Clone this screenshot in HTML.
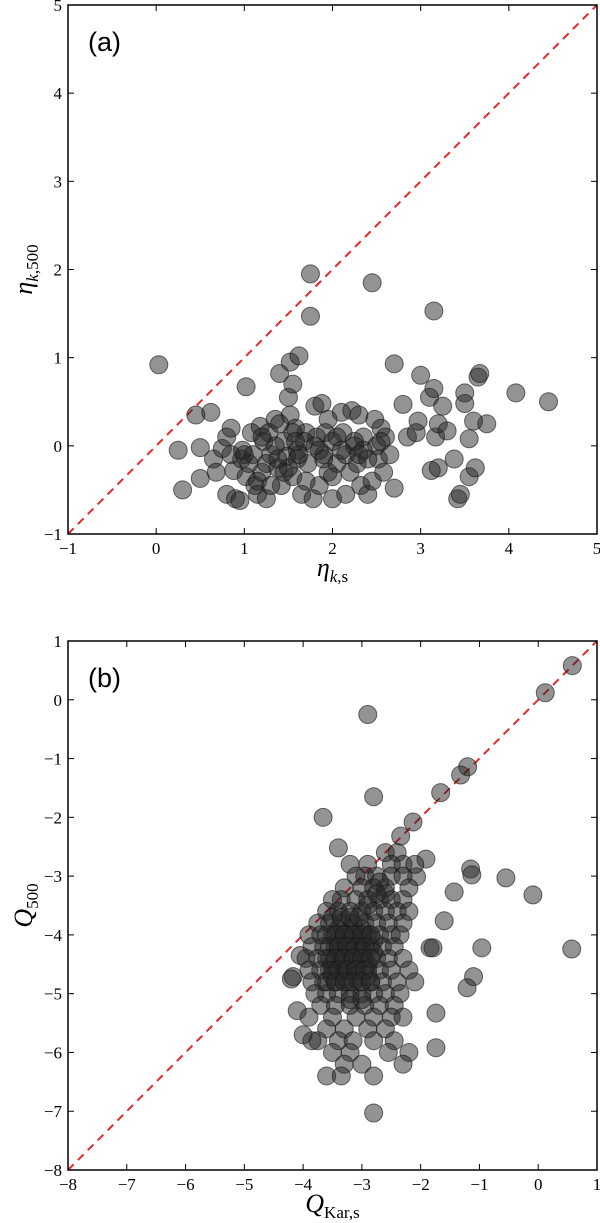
<!DOCTYPE html>
<html><head><meta charset="utf-8"><style>
html,body{margin:0;padding:0;background:#fff;}
svg{display:block;}
text{font-family:"Liberation Serif",serif;fill:#000;}
</style></head><body>
<svg id="chart" width="600" height="1223" viewBox="0 0 600 1223" xmlns="http://www.w3.org/2000/svg"></svg>
<script>
const etaS = [0.03,0.25,0.3,0.45,0.5,0.5,0.62,0.65,0.68,0.75,0.8,0.8,0.85,0.85,0.88,0.9,0.95,0.97,1.0,1.02,1.02,1.08,1.12,1.15,1.18,1.2,1.22,1.25,1.28,1.3,1.35,1.38,1.4,1.42,1.45,1.48,1.5,1.52,1.52,1.55,1.55,1.58,1.6,1.62,1.65,1.7,1.72,1.75,1.75,1.78,1.8,1.82,1.85,1.88,1.9,1.92,1.95,2.0,2.0,2.05,2.1,2.12,2.15,2.2,2.22,2.25,2.28,2.3,2.32,2.35,2.4,2.45,2.45,2.48,2.5,2.52,2.55,2.6,2.65,2.7,2.7,2.8,2.85,2.95,2.97,3.0,3.1,3.12,3.15,3.15,3.17,3.2,3.2,3.25,3.3,3.38,3.42,3.45,3.5,3.5,3.55,3.55,3.6,3.62,3.65,3.67,3.75,4.08,4.45,1.1,1.15,1.25,1.35,1.45,1.55,1.6,1.68,1.85,1.95,2.05,2.15,2.25,2.35,2.55,1.05,1.3,1.5,1.7,1.9,2.1,2.3,1.2,1.4,1.62,1.8,2.0,2.4,0.98,1.38,1.58,2.58];
const eta500 = [0.92,-0.05,-0.5,0.35,-0.02,-0.37,0.38,-0.15,-0.3,-0.03,0.1,-0.55,0.2,-0.1,-0.28,-0.6,-0.62,-0.15,-0.1,0.67,-0.35,0.15,-0.45,-0.55,0.22,-0.3,0.05,-0.6,0.15,-0.1,0.3,-0.25,0.82,-0.45,0.05,-0.12,0.55,0.95,0.35,0.7,-0.35,0.2,-0.05,1.02,-0.55,0.15,-0.2,1.95,1.47,-0.6,0.45,0.1,-0.45,0.48,-0.1,0.15,0.3,-0.6,0.05,-0.2,0.38,0.15,-0.55,-0.3,0.4,0.0,-0.2,0.35,-0.45,0.1,-0.55,1.85,-0.4,0.3,0.0,-0.15,0.2,0.1,-0.1,0.93,-0.48,0.47,0.1,0.15,0.28,0.8,0.55,-0.28,1.53,0.65,0.1,-0.25,0.25,0.45,0.17,-0.15,-0.6,-0.55,0.6,0.48,-0.35,0.08,0.28,-0.25,0.78,0.82,0.25,0.6,0.5,-0.1,-0.4,-0.2,0.0,-0.3,0.15,-0.15,0.05,-0.05,-0.3,0.1,-0.1,0.05,-0.05,0.05,-0.2,-0.45,-0.25,-0.4,-0.15,-0.05,-0.1,0.1,0.25,-0.1,0.0,-0.35,-0.15,-0.05,-0.15,0.05,-0.3,0.12];
const qKar = [0.58,0.12,-1.2,-1.32,-1.66,-3.66,-2.13,-2.34,-3.4,-1.91,-2.07,-1.15,-1.13,-0.55,-0.09,-1.43,-1.6,-1.84,-1.79,-0.96,0.57,-1.1,-1.21,-1.74,-1.74,-4.17,-4.1,-2.9,-2.8,
-2.6,-2.4,-3.2,-2.9,-2.5,-2.3,-2.1,-3.1,-2.95,-2.75,-2.5,-2.3,-3.3,-3.0,-2.8,-2.6,-2.2,-3.5,-3.35,-3.1,-2.9,-2.7,-2.5,-2.3,-3.6,-3.4,-3.2,-3.0,-2.8,-2.6,-2.4,-2.2,-3.75,-3.55,-3.35,-3.15,-2.95,-2.75,-2.55,-2.3,-3.9,-3.7,-3.5,-3.3,-3.1,-2.9,-2.7,-2.5,-2.35,-3.85,-3.65,-3.45,-3.25,-3.05,-2.85,-2.65,-2.45,-3.95,-3.75,-3.55,-3.35,-3.15,-2.95,-2.75,-2.55,-2.3,-3.9,-3.7,-3.5,-3.3,-3.1,-2.9,-2.7,-2.5,-2.2,-3.85,-3.65,-3.45,-3.25,-3.05,-2.85,-2.65,-2.4,-2.1,-3.8,-3.6,-3.4,-3.2,-3.0,-2.8,-2.6,-2.35,-3.7,-3.45,-3.2,-2.95,-2.7,-2.45,-3.9,-3.5,-3.1,-2.8,-2.5,-2.3,-3.6,-3.3,-2.9,-2.6,-3.75,-3.4,-3.15,-2.8,-2.45,-3.5,-3.2,-2.55,-2.2,-3.3,-3.0,-2.3,-3.6,-3.35,-2.8,-2.8,-4.05,-4.2,-4.0,-3.85,
-3.4,-3.2,-3.0,-2.8,-3.5,-3.3,-3.1,-2.9,-3.4,-3.2,-3.0,-2.8,-3.5,-3.3,-3.1,-2.9,-3.4,-3.2,-3.0,
-3.6,-3.45,-3.3,-3.15,-3.0,-2.85,-3.55,-3.4,-3.25,-3.1,-2.95,-3.6,-3.45,-3.3,-3.15,-3.0,-2.85,-3.55,-3.4,-3.25,-3.1,-2.95,-3.6,-3.45,-3.3,-3.15,-3.0,-2.85,-3.5,-3.35,-3.2,-3.05,-3.2,-3.0,-2.7,-2.6,-2.9,-2.75];
const q500 = [0.58,0.12,-1.14,-1.28,-1.58,-2.0,-2.08,-2.32,-2.52,-2.71,-3.01,-2.88,-2.98,-3.03,-3.32,-3.27,-3.76,-4.22,-4.22,-4.22,-4.24,-4.71,-4.9,-5.33,-5.92,-4.71,-5.29,-0.25,-1.65,
-2.6,-2.6,-2.8,-2.8,-2.8,-2.8,-2.8,-3.0,-3.0,-3.0,-3.0,-3.0,-3.2,-3.2,-3.2,-3.2,-3.2,-3.4,-3.4,-3.4,-3.4,-3.4,-3.4,-3.4,-3.6,-3.6,-3.6,-3.6,-3.6,-3.6,-3.6,-3.6,-3.8,-3.8,-3.8,-3.8,-3.8,-3.8,-3.8,-3.8,-4.0,-4.0,-4.0,-4.0,-4.0,-4.0,-4.0,-4.0,-4.0,-4.2,-4.2,-4.2,-4.2,-4.2,-4.2,-4.2,-4.2,-4.4,-4.4,-4.4,-4.4,-4.4,-4.4,-4.4,-4.4,-4.4,-4.6,-4.6,-4.6,-4.6,-4.6,-4.6,-4.6,-4.6,-4.6,-4.8,-4.8,-4.8,-4.8,-4.8,-4.8,-4.8,-4.8,-4.8,-5.0,-5.0,-5.0,-5.0,-5.0,-5.0,-5.0,-5.0,-5.2,-5.2,-5.2,-5.2,-5.2,-5.2,-5.4,-5.4,-5.4,-5.4,-5.4,-5.4,-5.6,-5.6,-5.6,-5.6,-5.8,-5.8,-5.8,-5.8,-5.8,-6.0,-6.0,-6.0,-6.0,-6.2,-6.2,-6.2,-6.4,-6.4,-6.4,-7.03,-4.35,-4.75,-5.7,-5.8,
-4.1,-4.1,-4.1,-4.1,-4.5,-4.5,-4.5,-4.5,-4.3,-4.3,-4.3,-4.3,-4.7,-4.7,-4.7,-4.7,-3.9,-3.9,-3.9,
-4.0,-4.0,-4.0,-4.0,-4.0,-4.0,-4.2,-4.2,-4.2,-4.2,-4.2,-4.4,-4.4,-4.4,-4.4,-4.4,-4.4,-4.6,-4.6,-4.6,-4.6,-4.6,-4.8,-4.8,-4.8,-4.8,-4.8,-4.8,-3.7,-3.7,-3.7,-3.7,-5.1,-5.1,-3.1,-3.3,-3.5,-3.3];
const ticksA = [-1,0,1,2,3,4,5];
const ticksBx = [-8,-7,-6,-5,-4,-3,-2,-1,0,1];
const ticksBy = [-8,-7,-6,-5,-4,-3,-2,-1,0,1];

const NS='http://www.w3.org/2000/svg';
const svg=document.getElementById('chart');
function mk(tag,attrs,parent){const e=document.createElementNS(NS,tag);for(const k in attrs)e.setAttribute(k,attrs[k]);(parent||svg).appendChild(e);return e;}

function panel(p){
  const g=mk('g',{});
  
  
  const sx=v=>p.L+(v-p.xmin)/(p.xmax-p.xmin)*(p.R-p.L);
  const sy=v=>p.B-(v-p.ymin)/(p.ymax-p.ymin)*(p.B-p.T);
  const d=mk('line',{x1:sx(Math.max(p.xmin,p.ymin)),y1:sy(Math.max(p.xmin,p.ymin)),x2:sx(Math.min(p.xmax,p.ymax)),y2:sy(Math.min(p.xmax,p.ymax)),stroke:'#e8262b','stroke-width':2,'stroke-dasharray':'8,6'},g);
  
  
  const pts=mk('g',{},g);
  
  
  for(let i=0;i<p.xs.length;i++){
    const c=mk('circle',{cx:sx(p.xs[i]),cy:sy(p.ys[i]),r:9,fill:'rgba(40,40,40,0.5)',stroke:'rgba(20,20,20,0.6)','stroke-width':1},pts);
    
    
  }
  const fr=mk('rect',{x:p.L,y:p.T,width:p.R-p.L,height:p.B-p.T,fill:'none',stroke:'#000','stroke-width':1.5},g);
  
  
  p.xt.forEach(v=>{
    const x=sx(v);
    mk('line',{x1:x,y1:p.B,x2:x,y2:p.B-6,stroke:'#000'},g);
    mk('line',{x1:x,y1:p.T,x2:x,y2:p.T+6,stroke:'#000'},g);
    const t=mk('text',{x:x,y:p.B+20,'text-anchor':'middle','font-size':17},g);
    t.textContent=(v<0?'\u2212'+(-v):v);
    
    
  });
  p.yt.forEach(v=>{
    const y=sy(v);
    mk('line',{x1:p.L,y1:y,x2:p.L+6,y2:y,stroke:'#000'},g);
    mk('line',{x1:p.R,y1:y,x2:p.R-6,y2:y,stroke:'#000'},g);
    const t=mk('text',{x:p.L-6,y:y+6,'text-anchor':'end','font-size':17},g);
    t.textContent=(v<0?'\u2212'+(-v):v);
    
    
  });
  const lab=mk('text',{x:p.L+20,y:p.T+46,'font-size':27,style:'font-family:"Liberation Sans",sans-serif'},g);
  lab.textContent=p.label;
  
  
  const xl=mk('text',{x:(p.L+p.R)/2,y:p.B+42,'text-anchor':'middle','font-size':26},g);
  xl.innerHTML=p.xlab;
  
  
  const cy=(p.T+p.B)/2;
  const yl=mk('text',{x:32,y:cy,'text-anchor':'middle','font-size':26,transform:`rotate(-90 32 ${cy})`},g);
  yl.innerHTML=p.ylab;
  
  
}
panel({name:'panel-a',L:68,R:597,T:5,B:534,xmin:-1,xmax:5,ymin:-1,ymax:5,xs:etaS,ys:eta500,xt:ticksA,yt:ticksA,label:'(a)',
  xlab:'<tspan font-style="italic">η</tspan><tspan font-size="17" dy="6"><tspan font-style="italic">k</tspan>,s</tspan>',
  ylab:'<tspan font-style="italic">η</tspan><tspan font-size="17" dy="6"><tspan font-style="italic">k</tspan>,500</tspan>'});
panel({name:'panel-b',L:68,R:597,T:641,B:1170,xmin:-8,xmax:1,ymin:-8,ymax:1,xs:qKar,ys:q500,xt:ticksBx,yt:ticksBy,label:'(b)',
  xlab:'<tspan font-style="italic">Q</tspan><tspan font-size="17" dy="6">Kar,s</tspan>',
  ylab:'<tspan font-style="italic">Q</tspan><tspan font-size="17" dy="6">500</tspan>'});
</script>
</body></html>
